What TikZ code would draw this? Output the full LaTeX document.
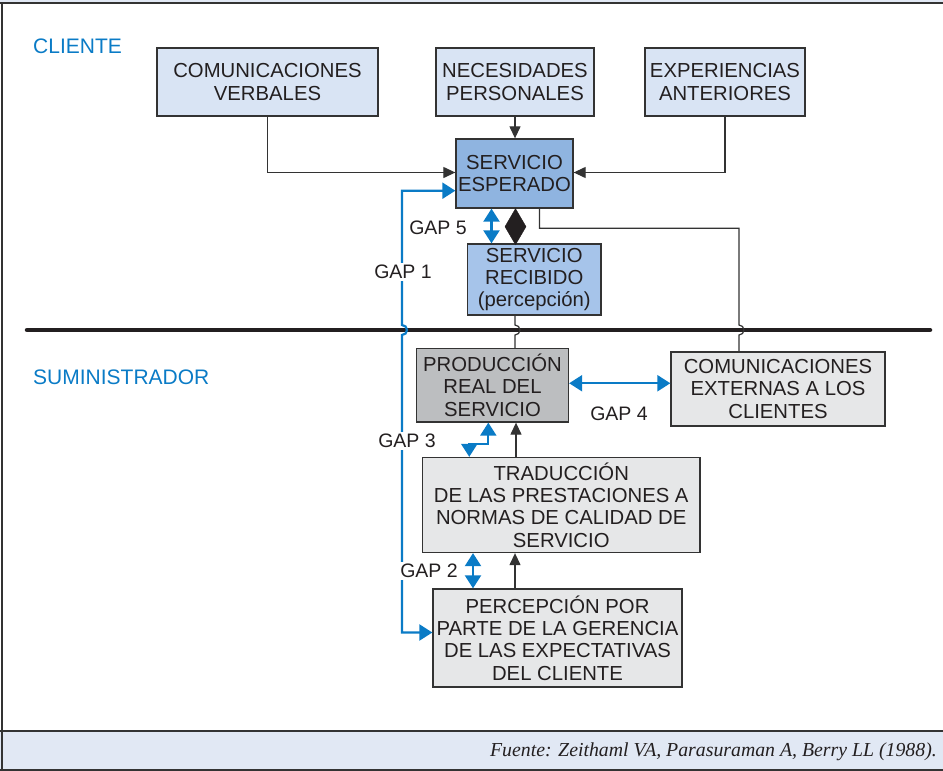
\documentclass[tikz,border=0pt]{standalone}
\usepackage{fontspec}
\setmainfont{Liberation Sans}
\newfontfamily\footfont{Liberation Serif}
\usetikzlibrary{arrows.meta,calc}

\definecolor{lblue}{HTML}{D9E4F4}
\definecolor{mblue}{HTML}{8FB4E0}
\definecolor{rblue}{HTML}{A6C4EA}
\definecolor{dgray}{HTML}{BCBEC0}
\definecolor{lgray}{HTML}{E6E7E8}
\definecolor{gapblue}{HTML}{0A7BC6}
\definecolor{band}{HTML}{E1E8F4}
\definecolor{edge}{HTML}{333333}
\definecolor{ink}{HTML}{231F20}

\tikzset{
  box/.style={draw=edge, line width=1.3pt, inner sep=0pt, align=center,
    text=ink, font=\fontsize{20.3}{22.3}\selectfont},
  lbbox/.style={box, fill=lblue},
  mbbox/.style={box, fill=mblue},
  rbbox/.style={box, fill=rblue},
  dgbox/.style={box, fill=dgray},
  lgbox/.style={box, fill=lgray},
  sect/.style={text=gapblue, font=\fontsize{21}{24}\selectfont, anchor=west, inner sep=0pt},
  gaplabel/.style={text=ink, font=\fontsize{19.5}{22}\selectfont, inner sep=2pt},
  gaplabelw/.style={gaplabel, fill=white},
  wire/.style={draw=edge, line width=1.2pt},
  blk/.style={wire, -{Triangle[length=12pt,width=11pt]}},
  gapline/.style={draw=gapblue, line width=2.2pt},
  gaparrow/.style={gapline, {Triangle[length=13pt,width=16pt]}-{Triangle[length=13pt,width=16pt]}},
}

\begin{document}
\begin{tikzpicture}[x=1pt,y=-1pt]
\useasboundingbox (0,0) rectangle (943,771);

% frame and source band
\fill[band] (0,0) rectangle (943,3);
\fill[band] (0,731) rectangle (943,770);
\draw[edge, line width=1.5pt] (0,3) -- (943,3);
\draw[edge, line width=1.5pt] (0,731) -- (943,731);
\draw[edge, line width=1.5pt] (0,770) -- (943,770);
\draw[edge, line width=1.5pt] (2,3) -- (2,771);
\node[anchor=base east, inner sep=0pt, text=ink, font=\footfont\itshape\fontsize{19.8}{22}\selectfont]
  (fuente) at (937,756) {Fuente: Zeithaml VA, Parasuraman A, Berry LL (1988).};

% section titles
\node[sect] (cliente) at (33,46) {CLIENTE};
\node[sect] (sumin) at (33,377) {SUMINISTRADOR};

% customer / provider divide
\coordinate (divL) at (27,330);
\coordinate (divR) at (930,330);
\draw[ink, line width=4.5pt, line cap=round] (divL) -- (divR);

% boxes
\node[lbbox, minimum width=221pt, minimum height=68pt] (verb) at (267.5,82) {COMUNICACIONES\\VERBALES};
\node[lbbox, minimum width=158pt, minimum height=68pt] (nec) at (515,82) {NECESIDADES\\PERSONALES};
\node[lbbox, minimum width=160pt, minimum height=68pt] (exp) at (725,82) {EXPERIENCIAS\\ANTERIORES};
\node[mbbox, minimum width=117pt, minimum height=69pt] (esp) at (514.5,173.5) {SERVICIO\\ESPERADO};
\node[rbbox, minimum width=133.5pt, minimum height=71pt] (rec) at (534.25,279.5) {SERVICIO\\RECIBIDO\\(percepción)};
\node[dgbox, minimum width=152pt, minimum height=73.5pt] (prod) at (492.5,385.25) {PRODUCCIÓN\\REAL DEL\\SERVICIO};
\node[lgbox, minimum width=214pt, minimum height=74pt] (ext) at (778,389) {COMUNICACIONES\\EXTERNAS A LOS\\CLIENTES};
\node[lgbox, minimum width=277.5pt, minimum height=95pt] (trad) at (561.25,505) {TRADUCCIÓN\\DE LAS PRESTACIONES A\\NORMAS DE CALIDAD DE\\SERVICIO};
\node[lgbox, minimum width=249pt, minimum height=98pt] (perc) at (557.5,638) {PERCEPCIÓN POR\\PARTE DE LA GERENCIA\\DE LAS EXPECTATIVAS\\DEL CLIENTE};

% inputs to the expected service
\draw[blk] (verb.south) |- ($(esp.west)+(0,-1)$);
\draw[blk] (nec.south) -- (nec.south |- esp.north);
\draw[blk] (exp.south) |- ($(esp.east)+(0,-1)$);

% expected vs received
\draw[fill=ink, draw=ink] ($(esp.south)+(1,0)$) -- ++(10.5,18) -- ++(-10.5,18) -- ++(-10.5,-18) -- cycle;
\coordinate (g5a) at ($(esp.south)+(-23,0)$);
\draw[gaparrow] (g5a) -- (g5a |- rec.north);

% expected service to external communications, bridging the divide
\coordinate (e1) at ($(esp.south)+(25,0)$);
\coordinate (e2) at ($(ext.north)+(-39,0)$);
\draw[wire] (e1) -- ($(e1)+(0,19.5)$) -| ($(e2 |- divL)+(0,-5)$) arc(-90:90:5) -- (e2);

% received service from actual production, bridging the divide
\coordinate (r1) at ($(rec.south)+(-19.25,0)$);
\draw[wire] (r1) -- ($(r1 |- divL)+(0,-5)$) arc(-90:90:5) -- (r1 |- prod.north);

% gap 1: management perception to expected service
\coordinate (g1a) at ($(perc.west)+(0,-5.5)$);
\coordinate (g1b) at ($(esp.west)+(0,17.2)$);
\coordinate (g1x) at (402,0);
\draw[gaparrow] (g1a) -- (g1x |- g1a) -- ($(g1x |- divL)+(0,5)$) arc(90:-90:5) -- (g1x |- g1b) -- (g1b);

% gap 4
\coordinate (g4a) at ($(prod.east)+(0,-2)$);
\draw[gaparrow] (g4a) -- (g4a -| ext.west);

% gap 3
\coordinate (g3a) at ($(prod.south)+(-4.2,0)$);
\coordinate (g3b) at ($(trad.north)+(-92,0)$);
\draw[gaparrow] (g3a) -- ($(g3a)+(0,21)$) -| (g3b);

% standards drive production
\coordinate (t1) at ($(trad.north)+(-45.25,0)$);
\draw[blk] (t1) -- (t1 |- prod.south);

% gap 2
\coordinate (g2a) at ($(trad.south)+(-88.25,0)$);
\draw[gaparrow] (g2a) -- (g2a |- perc.north);

% perception drives standards
\coordinate (p1) at ($(perc.north)+(-42.5,0)$);
\draw[blk] (p1) -- (p1 |- trad.south);

% gap labels
\node[gaplabel] (gap5) at (438,228) {GAP 5};
\node[gaplabelw] (gap1) at (403,272) {GAP 1};
\node[gaplabel] (gap4) at (619,414) {GAP 4};
\node[gaplabelw] (gap3) at (407,441) {GAP 3};
\node[gaplabelw] (gap2) at (429,571) {GAP 2};
\end{tikzpicture}
\end{document}
